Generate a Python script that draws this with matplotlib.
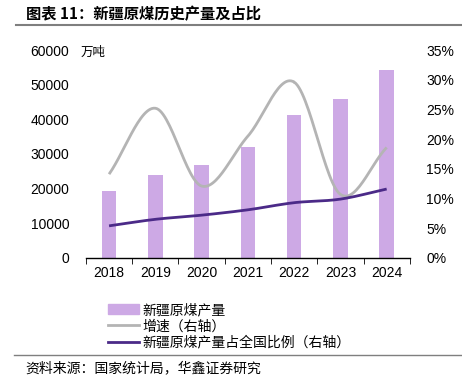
import numpy as np
import matplotlib
matplotlib.use("Agg")
import matplotlib.pyplot as plt
from matplotlib.lines import Line2D
from matplotlib.patches import Patch

plt.rcParams['font.family'] = ['Noto Sans CJK SC', 'DejaVu Sans']

years = ['2018', '2019', '2020', '2021', '2022', '2023', '2024']
output = [19300, 23900, 26800, 32000, 41300, 45800, 54200]  # 万吨
growth = [14.1, 25.2, 12.1, 20.5, 29.6, 10.7, 18.6]  # %
share = [5.4, 6.5, 7.2, 8.1, 9.3, 9.9, 11.6]  # %

bar_color = '#CDA9E5'
grey = '#B4B4B4'
purple = '#4B2A88'
num_font = 'Liberation Sans'


def smooth(x, y, n=30):
    # catmull-rom style smoothing like excel's smoothed lines
    x = np.asarray(x, float)
    y = np.asarray(y, float)
    px = np.concatenate([[2 * x[0] - x[1]], x, [2 * x[-1] - x[-2]]])
    py = np.concatenate([[2 * y[0] - y[1]], y, [2 * y[-1] - y[-2]]])
    xs, ys = [], []
    for i in range(1, len(px) - 2):
        t = np.linspace(0, 1, n)
        for arr, out in ((px, xs), (py, ys)):
            p0, p1, p2, p3 = arr[i - 1], arr[i], arr[i + 1], arr[i + 2]
            out.append(0.5 * (2 * p1 + (-p0 + p2) * t
                              + (2 * p0 - 5 * p1 + 4 * p2 - p3) * t ** 2
                              + (-p0 + 3 * p1 - 3 * p2 + p3) * t ** 3))
    return np.concatenate(xs), np.concatenate(ys)


fig = plt.figure(figsize=(4.62, 3.76), dpi=100)
ax = fig.add_axes([0.186, 0.314, 0.701, 0.553])
x = np.arange(len(years))

ax.bar(x, output, width=0.31, color=bar_color, zorder=1)
ax.set_xlim(-0.5, len(years) - 0.5)
ax.set_ylim(0, 60000)
ax.set_yticks(np.arange(0, 60001, 10000))
ax.set_xticks(x)
ax.set_xticklabels(years)
ax.set_xticks(np.arange(-0.5, len(years), 1), minor=True)
ax.tick_params(axis='x', which='major', length=0, pad=6, labelsize=10)
ax.tick_params(axis='x', which='minor', length=4, direction='out', color='black')
ax.tick_params(axis='y', length=0, pad=12, labelsize=10)
for lbl in ax.get_xticklabels() + ax.get_yticklabels():
    lbl.set_fontfamily(num_font)
for s in ['top', 'right', 'left']:
    ax.spines[s].set_visible(False)
ax.spines['bottom'].set_color('black')
ax.spines['bottom'].set_linewidth(1)
ax.text(-0.62, 59300, '万吨', fontsize=9, va='center', ha='left')

ax2 = ax.twinx()
ax2.set_ylim(0, 35)
ax2.set_yticks(np.arange(0, 36, 5))
ax2.set_yticklabels([f'{v}%' for v in range(0, 36, 5)], fontfamily=num_font)
ax2.tick_params(axis='y', length=0, pad=12, labelsize=10)
for s in ['top', 'right', 'left', 'bottom']:
    ax2.spines[s].set_visible(False)

gx, gy = smooth(x, growth)
ax2.plot(gx, gy, color=grey, lw=2, solid_capstyle='butt')
sx, sy = smooth(x, share)
ax2.plot(sx, sy, color=purple, lw=2, solid_capstyle='butt')

handles = [Patch(color=bar_color),
           Line2D([], [], color=grey, lw=2),
           Line2D([], [], color=purple, lw=2)]
labels = ['新疆原煤产量', '增速（右轴）', '新疆原煤产量占全国比例（右轴）']
fig.legend(handles, labels, loc='upper left', bbox_to_anchor=(0.234, 0.194),
           frameon=False, fontsize=10, handlelength=2.2, handleheight=0.7,
           labelspacing=0.16, handletextpad=0.3, borderpad=0, borderaxespad=0)

fig.text(0.056, 0.962, '图表 11：新疆原煤历史产量及占比', fontsize=11,
         fontweight='bold', va='center', ha='left')
fig.add_artist(Line2D([0.035, 1.0], [0.934, 0.934], color='#7F7F7F', lw=1.5))
fig.add_artist(Line2D([0.03, 1.0], [0.056, 0.056], color='#7F7F7F', lw=1))
fig.text(0.054, 0.021, '资料来源：国家统计局，华鑫证券研究', fontsize=10,
         va='center', ha='left')

fig.savefig('out.png', dpi=100)
